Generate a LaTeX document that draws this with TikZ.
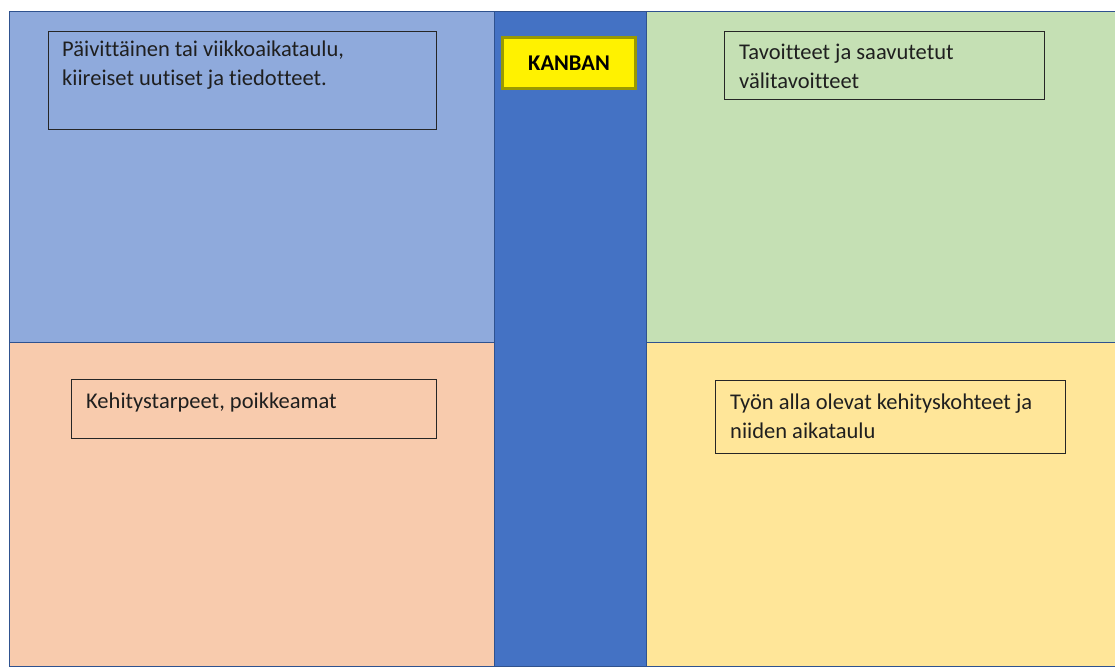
\documentclass[tikz,border=0pt]{standalone}
\usepackage{fontspec}
\setmainfont{Carlito}[Ligatures=NoCommon]
\usepackage{xcolor}
\usepackage{tikz}
\usetikzlibrary{calc}
\usetikzlibrary{shadows}
\usetikzlibrary{positioning}

\definecolor{paneblue}{HTML}{8FAADC}
\definecolor{panepeach}{HTML}{F8CBAD}
\definecolor{panegreen}{HTML}{C5E0B4}
\definecolor{paneyellow}{HTML}{FFE699}
\definecolor{stripblue}{HTML}{4472C4}
\definecolor{edgeblue}{HTML}{2F528F}
\definecolor{btnedge}{HTML}{9A9A00}

\tikzset{
  pane/.style={draw=edgeblue, line width=0.8pt},
  notebox/.style={draw=black!85, line width=1.3pt, inner sep=0pt, anchor=north west},
  notetext/.style={anchor=north west, inner sep=0pt, align=left,
    font=\fontsize{22.5}{29}\selectfont, text=black!88},
  kanbanbtn/.style={fill=yellow, draw=btnedge, line width=2.5pt, inner sep=0pt,
    font=\fontsize{22.5}{27}\selectfont\bfseries, text=black,
    drop shadow={shadow xshift=1.5pt, shadow yshift=-2pt, fill=black!45}}
}

\begin{document}
\begin{tikzpicture}[x=1pt,y=-1pt]
\useasboundingbox (0,0) rectangle (1115,666);

% quarters and the middle strip
\foreach \xa/\ya/\xb/\yb/\col in {9/11/494/342/paneblue, 9/342/494/666/panepeach,
  646/11/1115/342/panegreen, 646/342/1115/666/paneyellow, 494/11/646/666/stripblue}
  \draw[pane, fill=\col] (\xa,\ya) rectangle (\xb,\yb);

\node[kanbanbtn, minimum width=133pt, minimum height=51pt] (kanban) at (569,63) {KANBAN};

% note boxes
\node[notebox, minimum width=388pt, minimum height=98pt] (aikataulu) at (48,31) {};
\node[notebox, minimum width=320pt, minimum height=68pt] (tavoitteet) at (724,31) {};
\node[notebox, minimum width=365pt, minimum height=59pt] (kehitys) at (71,379) {};
\node[notebox, minimum width=350pt, minimum height=73pt] (tyon) at (715,380) {};

\node[notetext] (aikataulutxt) at ($(aikataulu.north west)+(14,10)$)
  {Päivittäinen tai viikkoaikataulu,\\kiireiset uutiset ja tiedotteet.};
\node[notetext] (tavoitteettxt) at ($(tavoitteet.north west)+(15,13)$)
  {Tavoitteet ja saavutetut\\välitavoitteet};
\node[notetext] (kehitystxt) at ($(kehitys.north west)+(15,14)$)
  {Kehitystarpeet, poikkeamat};
\node[notetext] (tyontxt) at ($(tyon.north west)+(15,14)$)
  {Työn alla olevat kehityskohteet ja\\niiden aikataulu};
\end{tikzpicture}
\end{document}
